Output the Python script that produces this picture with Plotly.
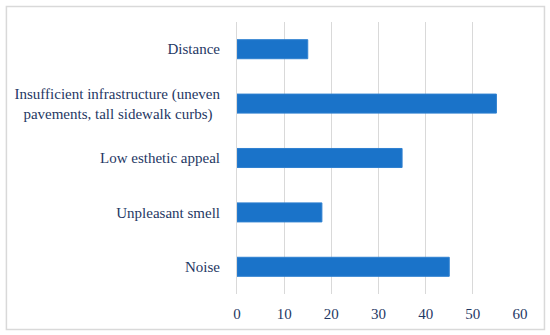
import plotly.graph_objects as go

categories = [
    "Noise",
    "Unpleasant smell",
    "Low esthetic appeal",
    "Insufficient infrastructure (uneven<br>pavements, tall sidewalk curbs)\u00a0\u00a0",
    "Distance",
]
values = [45, 18, 35, 55, 15]
x_ticks = [0, 10, 20, 30, 40, 50, 60]

W, H = 550, 335
L, R, T, B = 236.5, 30, 22, 41
pw, ph = W - L - R, H - T - B

fig = go.Figure(go.Bar(
    y=categories, x=values, orientation="h",
    marker=dict(color="#1A73C9", line=dict(color="#2F80D0", width=1)),
))

text_color = "#1F3864"
fig.update_layout(
    width=W, height=H,
    margin=dict(l=L, r=R, t=T, b=B, pad=0),
    paper_bgcolor="white", plot_bgcolor="white",
    font=dict(family="'Times New Roman', 'Liberation Serif', 'DejaVu Serif', serif",
              size=15, color=text_color),
    bargap=0.65,
    showlegend=False,
    xaxis=dict(range=[0, 60], tickvals=x_ticks, showgrid=True, gridcolor="#D9D9D9",
               gridwidth=1, zeroline=False, showline=False, ticks="",
               ticklabelstandoff=9, fixedrange=True, automargin=False),
    yaxis=dict(showgrid=False, zeroline=False, showline=True, linecolor="#D9D9D9",
               linewidth=1, ticks="", ticklabelstandoff=13, fixedrange=True,
               automargin=False),
    shapes=[dict(type="rect", xref="paper", yref="paper",
                 x0=(5.5 - L) / pw, x1=(544.5 - L) / pw,
                 y0=(H - B - 329.5) / ph, y1=(H - B - 6.5) / ph,
                 line=dict(color="#D9D9D9", width=1.5), layer="below")],
)

fig.write_html("out.html", config={"displayModeBar": False},
               post_script="document.body.style.margin='0';")
